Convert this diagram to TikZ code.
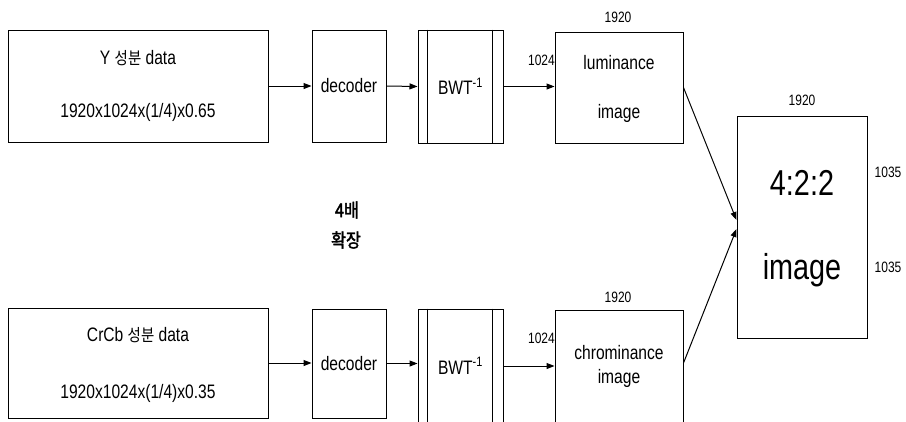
\documentclass[tikz,border=0pt]{standalone}
\usepackage{fontspec}
\setmainfont{Liberation Sans}[FakeStretch=0.8]
\newfontfamily\kr{Noto Sans CJK KR}[FakeStretch=0.85]
\newfontfamily\krb{Noto Sans CJK KR}[FakeStretch=0.85,FakeBold=2]
\usetikzlibrary{arrows.meta,calc}
\begin{document}
\begin{tikzpicture}[x=1pt,y=-1pt,
  box/.style={draw, line width=1pt, inner sep=0pt, anchor=center},
  txt/.style={inner sep=0pt, font=\fontsize{19.5}{22}\selectfont},
  lbl/.style={inner sep=0pt, font=\fontsize{15}{17}\selectfont},
  big/.style={inner sep=0pt, font=\fontsize{36}{40}\selectfont},
  kor/.style={inner sep=0pt, font=\krb\fontsize{19}{22}\selectfont},
  arr/.style={-{Triangle[length=8pt,width=6pt]}, line width=1pt},
  conn/.style={line width=1pt}]
\clip (0,0) rectangle (906,421);
\fill[white] (0,0) rectangle (906,421);

% top row
\node[box, minimum width=260pt, minimum height=112pt] (ybox) at (138,86) {};
\node[txt] (yt1) at (138,58) {Y {\kr\fontsize{17}{20}\selectfont 성분} data};
\node[txt] (yt2) at (138,112) {1920x1024x(1/4)x0.65};
\node[box, txt, minimum width=74pt, minimum height=112pt] (dec1) at (349,86) {decoder};
\node[box, txt, minimum width=85pt, minimum height=113pt] (bwt1) at (460.5,86.5) {BWT\textsuperscript{-1}};
\draw[conn] ([xshift=10pt]bwt1.north west) -- ([xshift=10pt]bwt1.south west);
\draw[conn] ([xshift=-11pt]bwt1.north east) -- ([xshift=-11pt]bwt1.south east);
\node[box, minimum width=128pt, minimum height=111pt] (lum) at (619,87.5) {};
\node[txt] (lumt1) at (619,63) {luminance};
\node[txt] (lumt2) at (619,113) {image};
\node[lbl] (lumw) at (618,17) {1920};
\node[lbl, anchor=east] (lumh) at (555,60) {1024};

\draw[arr] (ybox.east) -- (dec1.west);
\draw[arr] (dec1.east) -- (bwt1.west);
\draw[arr] (bwt1.east) -- (bwt1.east -| lum.west);

% output
\node[box, minimum width=130pt, minimum height=222pt] (out) at (802,227) {};
\node[big] (outt1) at (802,183) {4:2:2};
\node[big] (outt2) at (802,270) {image};
\node[lbl] (outw) at (802,100) {1920};
\node[lbl] (outh1) at (888,172) {1035};
\node[lbl] (outh2) at (888,267) {1035};

% middle note
\node[kor] (k1) at (347,210) {4배};
\node[kor] (k2) at (346,240) {확장};

% bottom row
\node[box, minimum width=260pt, minimum height=110pt] (cbox) at (138,363) {};
\node[txt] (ct1) at (138,335) {CrCb {\kr\fontsize{17}{20}\selectfont 성분} data};
\node[txt] (ct2) at (138,393) {1920x1024x(1/4)x0.35};
\node[box, txt, minimum width=74pt, minimum height=109pt] (dec2) at (349,363.5) {decoder};
\node[box, minimum width=85pt, minimum height=114pt] (bwt2) at (460.5,366) {};
\node[txt] (bwt2t) at (460.5,366) {BWT\textsuperscript{-1}};
\draw[conn] ([xshift=10pt]bwt2.north west) -- ([xshift=10pt]bwt2.south west);
\draw[conn] ([xshift=-11pt]bwt2.north east) -- ([xshift=-11pt]bwt2.south east);
\node[box, minimum width=128pt, minimum height=112pt] (chr) at (619,366) {};
\node[txt] (chrt1) at (619,353) {chrominance};
\node[txt] (chrt2) at (619,378) {image};
\node[lbl] (chrw) at (618,297) {1920};
\node[lbl, anchor=east] (chrh) at (555,338) {1024};

\draw[arr] (cbox.east) -- (cbox.east -| dec2.west);
\draw[arr] (dec2.east) -- (dec2.east -| bwt2.west);
\draw[arr] (bwt2.east) -- (chr.west);

\draw[arr] (lum.east) -- ([yshift=7pt]out.west);
\draw[arr] ([yshift=3pt]chr.east) -- ([yshift=-2pt]out.west);
\end{tikzpicture}
\end{document}
